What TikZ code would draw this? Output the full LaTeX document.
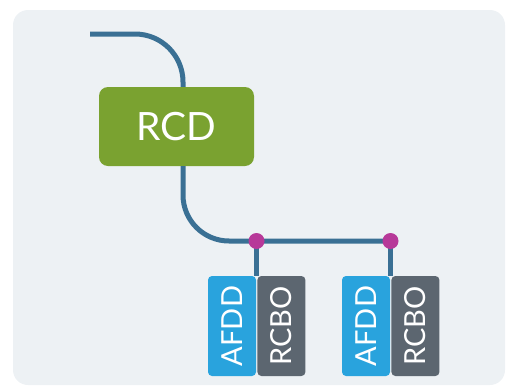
\documentclass[tikz,border=0pt]{standalone}
\usepackage{fontspec}
\setmainfont{Lato}
\usetikzlibrary{positioning}
\definecolor{panelbg}{RGB}{237,241,244}
\definecolor{wire}{RGB}{58,112,148}
\definecolor{rcdgreen}{RGB}{122,162,48}
\definecolor{afddblue}{RGB}{41,163,221}
\definecolor{rcbogrey}{RGB}{92,102,112}
\definecolor{joint}{RGB}{183,57,153}
\begin{document}
\begin{tikzpicture}[x=1pt,y=-1pt,
  cable/.style={draw=wire, line width=5pt},
  devbox/.style={rounded corners=4pt, inner sep=0pt, minimum width=48pt, minimum height=100pt, text=white, font=\fontsize{29}{29}\selectfont},
  dot/.style={circle, fill=joint, inner sep=0pt, minimum size=16pt}]
\useasboundingbox (0,0) rectangle (507,386);
\fill[panelbg, rounded corners=15pt] (13,10) rectangle (505,385);
% main device
\node[fill=rcdgreen, rounded corners=9pt, minimum width=155pt, minimum height=79pt, text=white, font=\fontsize{39}{39}\selectfont] (rcd) at (176.5,126.5) {RCD};
% branch devices
\node[devbox, fill=afddblue] (afddA) at (232,326) {\rotatebox{90}{AFDD}};
\node[devbox, fill=rcbogrey, right=1pt of afddA] (rcboA) {\rotatebox{90}{RCBO}};
\node[devbox, fill=afddblue] (afddB) at (366,326) {\rotatebox{90}{AFDD}};
\node[devbox, fill=rcbogrey, right=1pt of afddB] (rcboB) {\rotatebox{90}{RCBO}};
% wiring
\coordinate (feed) at (90,34);
\coordinate (rcdin) at (183,0 |- rcd.north);
\coordinate (rcdout) at (183,0 |- rcd.south);
\coordinate (jA) at (256.5,241);
\coordinate (jB) at (390.5,241);
\draw[cable, rounded corners=48pt] (feed) -| (rcdin);
\draw[cable, rounded corners=46pt] (rcdout) |- (jB);
\draw[cable] (jA) -- (jA |- afddA.north);
\draw[cable] (jB) -- (jB |- afddB.north);
\node[dot] (dotA) at (jA) {};
\node[dot] (dotB) at (jB) {};
\end{tikzpicture}
\end{document}
